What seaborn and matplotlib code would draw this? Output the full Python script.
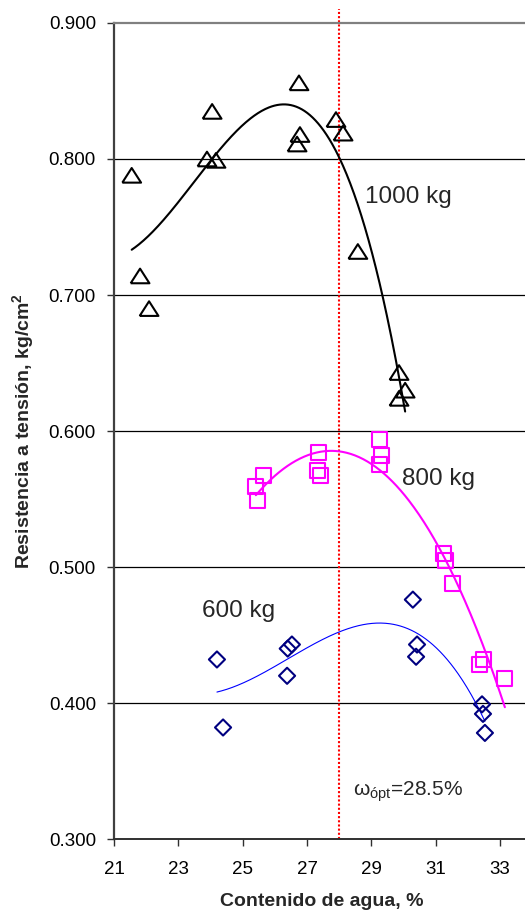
import numpy as np
import pandas as pd
import matplotlib
matplotlib.use("Agg")
import matplotlib.pyplot as plt
from matplotlib.ticker import FormatStrFormatter, FixedLocator
import seaborn as sns

# Water content (%) and tensile strength (kg/cm2) for each compaction load
water_1000 = [21.55, 21.81, 22.09, 24.05, 23.89, 24.17, 26.75, 26.78, 26.69,
              27.90, 28.12, 28.58, 29.86, 30.05, 29.86]
tension_1000 = [0.788, 0.714, 0.690, 0.835, 0.800, 0.799, 0.856, 0.818, 0.811,
                0.829, 0.819, 0.732, 0.643, 0.630, 0.624]

water_800 = [25.45, 25.41, 25.66, 27.37, 27.34, 27.43, 29.24, 29.33, 29.24,
             31.23, 31.32, 31.51, 32.50, 32.35, 33.15]
tension_800 = [0.549, 0.559, 0.567, 0.584, 0.571, 0.567, 0.594, 0.582, 0.575,
               0.510, 0.505, 0.488, 0.432, 0.428, 0.418]

water_600 = [24.20, 24.39, 26.40, 26.53, 26.38, 30.29, 30.42, 30.39,
             32.44, 32.47, 32.53]
tension_600 = [0.432, 0.382, 0.440, 0.443, 0.420, 0.476, 0.443, 0.434,
               0.399, 0.392, 0.378]

load_labels = ["1000 kg", "800 kg", "600 kg"]
optimum_water = 28.0
optimum_label = "28.5%"
x_ticks = [21, 23, 25, 27, 29, 31, 33]
y_ticks = [0.3, 0.4, 0.5, 0.6, 0.7, 0.8, 0.9]

sns.set_style("white")
plt.rcParams["font.family"] = ["Liberation Sans", "DejaVu Sans"]
plt.rcParams["mathtext.fontset"] = "custom"
plt.rcParams["mathtext.rm"] = "Liberation Sans"
plt.rcParams["mathtext.it"] = "Liberation Sans:italic"
plt.rcParams["mathtext.bf"] = "Liberation Sans:bold"

W, H = 525, 913
fig = plt.figure(figsize=(W / 100, H / 100), dpi=100)
ax = fig.add_axes([114 / W, 74 / H, 411 / W, 816 / H])

# Wide open triangle marker
tri = [(-1.0, -0.78), (1.0, -0.78), (0.0, 0.78), (-1.0, -0.78)]

series = [
    (water_1000, tension_1000, tri, "black", 13.5 ** 2, 1.5),
    (water_800, tension_800, "s", "#FF00FF", 10.8 ** 2, 1.5),
    (water_600, tension_600, "D", "#000080", 8.2 ** 2, 1.5),
]
curve_styles = [("black", 1.5), ("#FF00FF", 1.5), ("#0000FF", 0.8)]

for (wx, ty, mk, col, size, lw), (ccol, clw) in zip(series, curve_styles):
    df = pd.DataFrame({"w": wx, "t": ty})
    # Third-order polynomial trend line over the range of the measurements
    coef = np.polyfit(df["w"], df["t"], 3)
    xs = np.linspace(df["w"].min(), df["w"].max(), 300)
    trend = pd.DataFrame({"w": xs, "t": np.polyval(coef, xs)})
    sns.lineplot(data=trend, x="w", y="t", ax=ax, color=ccol, lw=clw,
                 zorder=3, legend=False)
    sns.scatterplot(data=df, x="w", y="t", ax=ax, marker=mk, s=size,
                    facecolor="none", edgecolor=col, linewidth=lw,
                    zorder=4, legend=False)

# Optimum water content
ax.axvline(optimum_water, ymin=0, ymax=1.017, color="red", lw=1.5,
           ls=(0, (1, 1)), clip_on=False, zorder=2)

ax.set_xlim(21, 21 + 411 / 32.17)
ax.set_ylim(0.3, 0.9)
ax.xaxis.set_major_locator(FixedLocator(x_ticks))
ax.yaxis.set_major_locator(FixedLocator(y_ticks))
ax.yaxis.set_major_formatter(FormatStrFormatter("%.3f"))

for y in y_ticks[1:-1]:
    ax.axhline(y, color="black", lw=0.9, zorder=1)

for side in ["right"]:
    ax.spines[side].set_visible(False)
ax.spines["top"].set_color("#808080")
ax.spines["top"].set_linewidth(1.6)
ax.spines["left"].set_color("#404040")
ax.spines["left"].set_linewidth(1.6)
ax.spines["bottom"].set_color("#303030")
ax.spines["bottom"].set_linewidth(1.4)

ax.tick_params(axis="both", direction="out", length=5, width=1.0,
               color="#303030", labelsize=13.5, labelcolor="black")
ax.tick_params(axis="y", pad=8, left=True)
ax.tick_params(axis="x", pad=11, bottom=True)

ax.set_xlabel("Contenido de agua, %", fontsize=14, fontweight="bold")
ax.set_ylabel(r"Resistencia a tensión, kg/cm$^\mathbf{2}$", fontsize=14,
              fontweight="bold")
ax.xaxis.set_label_coords((322 - 114) / 411, -0.066)
ax.yaxis.set_label_coords((36 - 114) / 411, 0.5)

ax.text(28.80, 0.768, load_labels[0], fontsize=17.5, va="baseline")
ax.text(29.95, 0.560, load_labels[1], fontsize=17.5, va="baseline")
ax.text(23.74, 0.463, load_labels[2], fontsize=17.5, va="baseline")
ax.text(28.43, 0.332, r"$\mathregular{ω_{ópt}}$=" + optimum_label,
        fontsize=15, va="baseline")

fig.savefig("out.png", dpi=100)
